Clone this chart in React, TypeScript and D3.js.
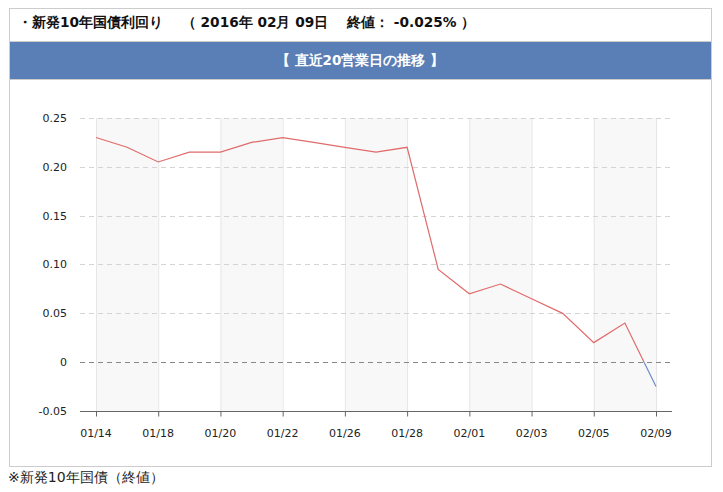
import React, { useEffect, useRef } from 'react';
import * as d3 from 'd3';

const dates = ['01/14', '01/15', '01/18', '01/19', '01/20', '01/21', '01/22', '01/25', '01/26', '01/27',
  '01/28', '01/29', '02/01', '02/02', '02/03', '02/04', '02/05', '02/08', '02/09'];
const yields = [0.23, 0.22, 0.205, 0.215, 0.215, 0.225, 0.23, 0.225, 0.22, 0.215,
  0.22, 0.095, 0.07, 0.08, 0.065, 0.05, 0.02, 0.04, -0.025];
const yTicks = [-0.05, 0, 0.05, 0.10, 0.15, 0.20, 0.25];
const yTickLabels = ['-0.05', '0', '0.05', '0.10', '0.15', '0.20', '0.25'];

const FONT = '"DejaVu Sans", Verdana, sans-serif';

const App: React.FC = () => {
  const svgRef = useRef<SVGSVGElement>(null);

  useEffect(() => {
    if (!svgRef.current) return;
    const svg = d3.select(svgRef.current);
    svg.selectAll('*').remove();

    const width = 723;
    const height = 492;

    // frame
    svg.append('rect')
      .attr('x', 9.5).attr('y', 8.5).attr('width', 702).attr('height', 458)
      .attr('fill', '#fff').attr('stroke', '#cccccc');

    svg.append('text')
      .attr('x', 18).attr('y', 27)
      .attr('font-family', FONT).attr('font-size', '13.7px').attr('font-weight', 'bold')
      .attr('fill', '#111')
      .attr('xml:space', 'preserve')
      .text('・新発10年国債利回り　 （ 2016年 02月 09日　 終値： -0.025% ）');

    svg.append('rect')
      .attr('x', 10).attr('y', 42).attr('width', 701).attr('height', 37)
      .attr('fill', '#5a7fb6');
    svg.append('line').attr('x1', 10).attr('x2', 711).attr('y1', 41.5).attr('y2', 41.5).attr('stroke', '#cccccc');
    svg.append('line').attr('x1', 10).attr('x2', 711).attr('y1', 79.5).attr('y2', 79.5).attr('stroke', '#cccccc');
    svg.append('text')
      .attr('x', 360).attr('y', 65)
      .attr('text-anchor', 'middle')
      .attr('font-family', FONT).attr('font-size', '13.5px').attr('font-weight', 'bold')
      .attr('fill', '#fff')
      .text('【 直近20営業日の推移 】');

    svg.append('text')
      .attr('x', 8).attr('y', 482)
      .attr('font-family', FONT).attr('font-size', '14px')
      .attr('fill', '#222')
      .text('※新発10年国債（終値）');

    // scales
    const x = d3.scalePoint<string>().domain(dates).range([96, 656]);
    const y = d3.scaleLinear().domain([-0.05, 0.25]).range([411, 118]);
    const plotLeft = 80;
    const plotRight = 672;

    const g = svg.append('g');

    // alternating bands
    const labelIdx = dates.map((_, i) => i).filter(i => i % 2 === 0);
    const bandIdx = labelIdx.filter((_, k) => k % 2 === 0 && k < labelIdx.length - 1);
    g.selectAll('.band').data(bandIdx).enter().append('rect')
      .attr('x', i => x(dates[i])!)
      .attr('width', i => x(dates[i + 2])! - x(dates[i])!)
      .attr('y', y(0.25)).attr('height', y(-0.05) - y(0.25))
      .attr('fill', '#f8f8f8');

    // vertical grid
    g.selectAll('.vgrid').data(labelIdx).enter().append('line')
      .attr('x1', i => x(dates[i])! + 0.5).attr('x2', i => x(dates[i])! + 0.5)
      .attr('y1', y(0.25)).attr('y2', y(-0.05))
      .attr('stroke', '#e6e6e6');

    // horizontal dashed grid
    g.selectAll('.hgrid').data(yTicks.filter(t => t !== -0.05)).enter().append('line')
      .attr('x1', plotLeft).attr('x2', plotRight)
      .attr('y1', t => Math.round(y(t)) + 0.5).attr('y2', t => Math.round(y(t)) + 0.5)
      .attr('stroke', t => (t === 0 ? '#888' : '#d4d4d4'))
      .attr('stroke-dasharray', '5,4');

    // y labels
    g.selectAll('.ylab').data(yTicks).enter().append('text')
      .attr('x', 67).attr('y', t => y(t)).attr('dy', '0.35em')
      .attr('text-anchor', 'end')
      .attr('font-family', FONT).attr('font-size', '11px').attr('fill', '#222')
      .text((_, i) => yTickLabels[i]);

    // x axis
    const axisY = Math.round(y(-0.05)) + 0.5;
    g.append('line').attr('x1', plotLeft).attr('x2', plotRight)
      .attr('y1', axisY).attr('y2', axisY).attr('stroke', '#666');
    g.selectAll('.xtick').data(labelIdx).enter().append('line')
      .attr('x1', i => x(dates[i])! + 0.5).attr('x2', i => x(dates[i])! + 0.5)
      .attr('y1', axisY).attr('y2', axisY + 5).attr('stroke', '#666');
    g.selectAll('.xlab').data(labelIdx).enter().append('text')
      .attr('x', i => x(dates[i])!).attr('y', 437)
      .attr('text-anchor', 'middle')
      .attr('font-family', FONT).attr('font-size', '11px').attr('fill', '#222')
      .text(i => dates[i]);

    // clip paths for positive/negative
    const defs = svg.append('defs');
    defs.append('clipPath').attr('id', 'clipPos').append('rect')
      .attr('x', 0).attr('y', 0).attr('width', width).attr('height', y(0));
    defs.append('clipPath').attr('id', 'clipNeg').append('rect')
      .attr('x', 0).attr('y', y(0)).attr('width', width).attr('height', height - y(0));

    const line = d3.line<number>()
      .x((_, i) => x(dates[i])!)
      .y(d => y(d));

    g.append('path').datum(yields)
      .attr('d', line).attr('fill', 'none')
      .attr('stroke', '#e06b6b').attr('stroke-width', 1.2)
      .attr('clip-path', 'url(#clipPos)');
    g.append('path').datum(yields)
      .attr('d', line).attr('fill', 'none')
      .attr('stroke', '#6e8cc8').attr('stroke-width', 1.2)
      .attr('clip-path', 'url(#clipNeg)');
  }, []);

  return (
    <svg
      ref={svgRef}
      width={723}
      height={492}
      style={{ position: 'absolute', left: 0, top: 0, display: 'block' }}
    />
  );
};

export default App;
